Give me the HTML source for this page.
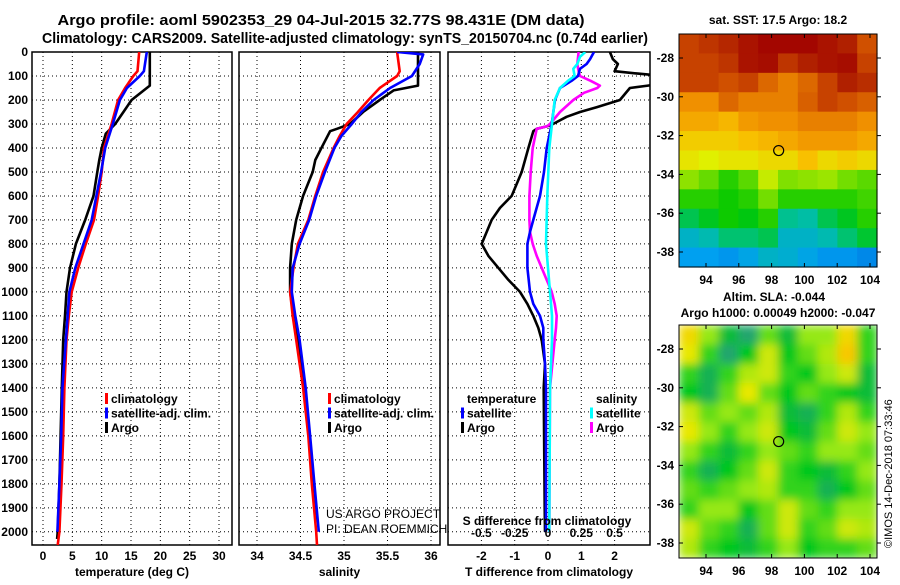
<!DOCTYPE html>
<html><head><meta charset="utf-8"><style>
html,body{margin:0;padding:0;background:#fff;}
svg text{font-family:"Liberation Sans",sans-serif;}
.b{font-weight:bold;font-size:12px;}
</style></head><body>
<svg id="fig" width="900" height="580" viewBox="0 0 900 580" xmlns="http://www.w3.org/2000/svg">
<defs>
<filter id="blur" x="0" y="0" width="1" height="1"><feGaussianBlur stdDeviation="4.5" edgeMode="duplicate"/></filter>
<clipPath id="c1"><rect x="32" y="52" width="200" height="493"/></clipPath>
<clipPath id="c2"><rect x="239" y="52" width="201" height="493"/></clipPath>
<clipPath id="c3"><rect x="448" y="52" width="202" height="493"/></clipPath>
<clipPath id="cm2"><rect x="679" y="325" width="198" height="233"/></clipPath>
</defs>
<text x="321" y="25" text-anchor="middle" font-weight="bold" font-size="14.5" textLength="527" lengthAdjust="spacingAndGlyphs">Argo profile: aoml 5902353_29 04-Jul-2015 32.77S 98.431E (DM data)</text>
<text x="345" y="43" text-anchor="middle" font-weight="bold" font-size="14.5" textLength="606" lengthAdjust="spacingAndGlyphs">Climatology: CARS2009. Satellite-adjusted climatology: synTS_20150704.nc (0.74d earlier)</text>
<g id="g1"></g>
<g id="g2"></g>
<g id="g3"></g>
<g id="m1"></g>
<g id="m2"></g>
<text x="778" y="24" text-anchor="middle" class="b">sat. SST: 17.5 Argo: 18.2</text>
<text x="774" y="301" text-anchor="middle" class="b">Altim. SLA: -0.044</text>
<text x="778" y="317" text-anchor="middle" class="b">Argo h1000: 0.00049 h2000: -0.047</text>
<text transform="translate(892,548) rotate(-90)" font-size="11">©IMOS 14-Dec-2018 07:33:46</text>
</svg>
<script>
// ---------- data ----------
const depthTArgo = [0,130,140,200,300,340,400,450,500,600,700,800,900,1000,1100,1200,1400,1600,1800,2000,2030];
const tempArgo   = [18.2,18.2,18.2,15.1,12.3,10.7,10.0,9.6,9.25,8.6,7.2,5.6,4.6,4.0,3.75,3.45,3.2,3.0,2.8,2.5,2.4];
const depthTClim = [0,80,100,150,200,300,400,500,600,700,800,900,1000,1100,1200,1400,1600,1800,2000,2055];
const tempClim   = [16.4,16.1,15.4,14.0,12.8,11.7,10.4,10.0,9.4,8.7,7.3,6.0,4.9,4.4,4.0,3.65,3.45,3.15,2.8,2.5];
const depthTSat  = [0,80,100,150,200,300,400,500,600,700,800,900,1000,1100,1200,1400,1600,1800,2000];
const tempSat    = [17.7,17.2,16.5,14.3,13.1,11.9,10.6,9.9,9.1,8.3,6.9,5.5,4.5,4.2,3.9,3.3,3.1,2.8,2.45];

const depthSArgo = [0,140,160,200,250,300,320,330,400,450,500,600,700,800,900,1000,1100,1200,1400,1600,1800,1950];
const salArgo    = [35.85,35.85,35.57,35.41,35.22,35.07,34.92,34.84,34.74,34.67,34.64,34.53,34.45,34.40,34.38,34.38,34.42,34.47,34.55,34.60,34.64,34.68];
const depthSClim = [0,80,100,150,200,250,300,350,400,500,600,700,800,900,1000,1100,1200,1400,1600,1800,2000,2055];
const salClim    = [35.61,35.64,35.61,35.41,35.28,35.16,35.03,34.95,34.88,34.76,34.67,34.59,34.47,34.42,34.38,34.41,34.45,34.53,34.59,34.63,34.68,34.69];
const depthSSat  = [0,10,50,100,150,200,250,300,350,400,500,600,700,800,900,1000,1100,1200,1400,1600,1800,2000];
const salSat     = [35.61,35.91,35.87,35.78,35.53,35.34,35.20,35.09,34.97,34.89,34.78,34.68,34.60,34.49,34.41,34.40,34.44,34.49,34.56,34.61,34.66,34.71];

const depthDArgoT = [0,30,50,80,90,100,130,140,150,200,230,250,270,300,310,320,330,400,500,600,650,700,750,800,850,900,950,1000,1050,1100,1150,1200,1300,1400,1900,2000];
const dTArgo      = [1.86,1.95,2.1,2.0,2.7,3.5,3.5,3.0,2.46,2.16,1.46,0.96,0.56,0.15,-0.04,-0.34,-0.44,-0.59,-0.79,-1.09,-1.44,-1.69,-1.84,-1.99,-1.79,-1.49,-1.19,-0.84,-0.62,-0.44,-0.29,-0.19,-0.09,-0.13,-0.1,-0.09];
const depthDSatT  = [0,30,50,70,100,120,150,200,300,400,500,600,700,750,800,900,1000,1050,1100,1150,1200,1300,1400,2000];
const dTSat       = [1.38,1.26,1.16,0.96,0.9,0.71,0.36,0.21,0.11,-0.04,-0.12,-0.24,-0.44,-0.54,-0.62,-0.62,-0.54,-0.44,-0.24,-0.14,-0.14,-0.09,-0.06,-0.06];
const depthDSatS  = [0,20,50,70,100,120,150,200,300,400,600,800,900,1000,1100,1200,1400,2000];
const dSSat       = [0.28,0.24,0.22,0.19,0.2,0.15,0.09,0.05,0.03,0.01,-0.005,-0.015,0,0.015,0.03,0.03,0.015,0.01];
const depthDArgoS = [0,50,80,100,120,140,150,170,200,250,300,310,320,400,500,600,700,750,800,850,900,950,1000,1050,1100,1150,1200,1400,2000];
const dSArgo      = [0.23,0.22,0.23,0.24,0.32,0.39,0.37,0.27,0.19,0.09,0.015,-0.01,-0.085,-0.115,-0.13,-0.14,-0.14,-0.135,-0.115,-0.085,-0.047,-0.01,0.028,0.05,0.065,0.06,0.05,0.015,0.01];

const depthTicks = [0,100,200,300,400,500,600,700,800,900,1000,1100,1200,1300,1400,1500,1600,1700,1800,1900,2000];
const tempTicks = [0,5,10,15,20,25,30];
const salTicks = [34,34.5,35,35.5,36];
const salTickLabels = ["34","34.5","35","35.5","36"];
const tdTicks = [-2,-1,0,1,2];
const sdTicks = [-0.5,-0.25,0,0.25,0.5];
const sdTickLabels = ["-0.5","-0.25","0","0.25","0.5"];

const sstGrid = [
[.9,.92,.94,.97,.99,.99,.99,.97,.95,.88],
[.9,.9,.92,.97,.98,.92,.95,.97,.98,.9],
[.9,.9,.88,.9,.85,.82,.85,.9,.95,.93],
[.8,.8,.85,.82,.82,.82,.86,.9,.88,.86],
[.75,.75,.72,.78,.8,.8,.82,.82,.82,.8],
[.68,.68,.68,.7,.72,.75,.78,.78,.78,.75],
[.64,.62,.64,.64,.66,.66,.7,.66,.68,.66],
[.56,.53,.48,.52,.6,.55,.56,.57,.54,.52],
[.48,.48,.46,.48,.54,.48,.48,.48,.48,.5],
[.4,.43,.46,.44,.48,.36,.34,.4,.43,.48],
[.28,.32,.38,.38,.4,.28,.28,.32,.38,.42],
[.2,.2,.18,.22,.28,.26,.22,.18,.18,.15]];
const slaGrid = [
[.8,.6,.4,.3,.55,.4,.6,.6,.8,.5],
[.75,.5,.3,.45,.7,.45,.55,.65,.85,.5],
[.5,.35,.5,.65,.7,.5,.45,.6,.7,.4],
[.45,.35,.55,.75,.55,.45,.55,.5,.45,.4],
[.7,.55,.6,.55,.65,.4,.35,.5,.65,.5],
[.75,.6,.5,.6,.7,.45,.4,.55,.7,.6],
[.6,.5,.4,.5,.6,.55,.5,.6,.6,.55],
[.5,.35,.45,.55,.7,.5,.45,.4,.5,.6],
[.55,.5,.55,.6,.65,.5,.5,.35,.45,.55],
[.5,.6,.6,.45,.55,.7,.55,.5,.6,.6],
[.7,.55,.5,.35,.55,.7,.5,.55,.7,.65],
[.65,.5,.45,.4,.5,.6,.45,.5,.5,.55]];
const lonTicks = [94,96,98,100,102,104];
const latTicks = [-28,-30,-32,-34,-36,-38];
const argoLon = 98.431, argoLat = -32.77;

// ---------- helpers ----------
const NS = "http://www.w3.org/2000/svg";
function mk(tag, parent, attrs){ const e=document.createElementNS(NS,tag); for(const k in attrs) e.setAttribute(k,attrs[k]); parent.appendChild(e); return e; }
const PT=52, PB=545;
const yD = d => PT + (d/2055)*(PB-PT);
function lin(d0,d1,r0,r1){ return v => r0 + (v-d0)/(d1-d0)*(r1-r0); }
const xT = lin(0,30,43,219);
const xS = lin(34,36,257,431);
const xTD = lin(0,1,548,581.3);
const xSD = lin(0,1,548,681.2);

function frame(g, x0, x1, xticks, xfn, xlabels, title, showY){
  for(const d of depthTicks){
    const gl=mk('line',g,{x1:x0,x2:x1,y1:yD(d),y2:yD(d),stroke:'#000','stroke-width':1,'stroke-dasharray':'1,3'});
    
    
    if(showY){
      const t=mk('text',g,{x:28,y:yD(d)+4,'text-anchor':'end',class:'b'}); t.textContent=d;
      
      
    }
  }
  xticks.forEach((v,i)=>{
    const X=xfn(v);
    const gl=mk('line',g,{x1:X,x2:X,y1:PT,y2:PB,stroke:'#000','stroke-width':1,'stroke-dasharray':'1,3'});
    
    
    const t=mk('text',g,{x:X,y:560,'text-anchor':'middle',class:'b'}); t.textContent=xlabels[i];
    
    
  });
  const r=mk('rect',g,{x:x0,y:PT,width:x1-x0,height:PB-PT,fill:'none',stroke:'#000','stroke-width':1.5});
  
  
  const tt=mk('text',g,{x:(x0+x1)/2,y:576,'text-anchor':'middle',class:'b'}); tt.textContent=title;
  
  
}
function series(g, depths, vals, xfn, color, clip, name){
  const pts = depths.map((d,i)=>xfn(vals[i]).toFixed(1)+','+yD(d).toFixed(1)).join(' ');
  const p=mk('polyline',g,{points:pts,fill:'none',stroke:color,'stroke-width':2.6,'clip-path':'url(#'+clip+')','stroke-linejoin':'round'});
  
  
}
function legend(g, x, y, items){
  items.forEach((it,i)=>{
    const yy=y+i*14.5;
    if(it[0]){ const r=mk('rect',g,{x:x,y:yy-10,width:3,height:11,fill:it[0]});
      
       }
    const t=mk('text',g,{x:x+6,y:yy,class:'b'}); t.textContent=it[1];
    
    
  });
}

// panel 1
const g1=document.getElementById('g1');
frame(g1,32,232,tempTicks,xT,tempTicks.map(String),'temperature (deg C)',true);
series(g1,depthTArgo,tempArgo,xT,'#000','c1','temp-argo-line');
series(g1,depthTClim,tempClim,xT,'#f00','c1','temp-climatology-line');
series(g1,depthTSat,tempSat,xT,'#00f','c1','temp-satellite-line');
legend(g1,105,403,[['#f00','climatology'],['#00f','satellite-adj. clim.'],['#000','Argo']]);

// panel 2
const g2=document.getElementById('g2');
frame(g2,239,440,salTicks,xS,salTickLabels,'salinity',false);
series(g2,depthSArgo,salArgo,xS,'#000','c2','sal-argo-line');
series(g2,depthSClim,salClim,xS,'#f00','c2','sal-climatology-line');
series(g2,depthSSat,salSat,xS,'#00f','c2','sal-satellite-line');
legend(g2,328,403,[['#f00','climatology'],['#00f','satellite-adj. clim.'],['#000','Argo']]);
const c1=mk('text',g2,{x:326,y:518,'font-size':'12'}); c1.textContent='US ARGO PROJECT';


const c2=mk('text',g2,{x:326,y:533,'font-size':'12'}); c2.textContent='PI: DEAN ROEMMICH';



// panel 3
const g3=document.getElementById('g3');
frame(g3,448,650,tdTicks,xTD,tdTicks.map(String),'T difference from climatology',false);
series(g3,depthDArgoT,dTArgo,xTD,'#000','c3','tdiff-argo-line');
series(g3,depthDArgoS,dSArgo,xSD,'#f0f','c3','sdiff-argo-line');
series(g3,depthDSatT,dTSat,xTD,'#00f','c3','tdiff-satellite-line');
series(g3,depthDSatS,dSSat,xSD,'#0ff','c3','sdiff-satellite-line');
legend(g3,461,403,[[null,'temperature'],['#00f','satellite'],['#000','Argo']]);
legend(g3,590,403,[[null,'salinity'],['#0ff','satellite'],['#f0f','Argo']]);
sdTicks.forEach((v,i)=>{
  const t=mk('text',g3,{x:xSD(v),y:537,'text-anchor':'middle',class:'b'}); t.textContent=sdTickLabels[i];
  
  
});
const st=mk('text',g3,{x:547,y:525,'text-anchor':'middle',class:'b'}); st.textContent='S difference from climatology';



// maps
const mxL=679, mxR=877;
const lonX = lin(94,104,706,870);
function ramp(s,v){
  for(let i=1;i<s.length;i++){ if(v<=s[i][0]){ const f=(v-s[i-1][0])/(s[i][0]-s[i-1][0]); const a=s[i-1][1],b=s[i][1]; return 'rgb('+a.map((c,k)=>Math.round(c+(b[k]-c)*f)).join(',')+')'; } }
  const l=s[s.length-1][1]; return 'rgb('+l.join(',')+')';
}
function cmapSST(v){
  return ramp([[0,[0,64,208]],[.2,[0,160,240]],[.35,[0,192,160]],[.45,[0,200,0]],[.55,[128,224,0]],[.62,[224,240,0]],[.7,[248,192,0]],[.8,[240,144,0]],[.88,[208,80,0]],[.95,[176,32,0]],[1,[160,0,0]]],v);
}
function cmapSLA(v){
  return ramp([[0,[20,150,130]],[.3,[32,165,110]],[.45,[0,200,30]],[.6,[150,232,20]],[.75,[232,232,0]],[.85,[248,200,0]],[1,[248,180,0]]],v);
}
function drawMap(g, top, bottom, grid, cmap, blur){
  const latY = lin(-28,-38,top+24,top+24+194);
  const cg=mk('g',g,blur?{filter:'url(#blur)','clip-path':'url(#cm2)'}:{});
  const rows=grid.length, cols=grid[0].length;
  const cw=(mxR-mxL)/cols, ch=(bottom-top)/rows;
  grid.forEach((row,r)=>row.forEach((v,c)=>{
    const cell=mk('rect',cg,{x:mxL+c*cw,y:top+r*ch,width:cw+0.6,height:ch+0.6,fill:cmap(v)});
    
    
  }));
  const fr=mk('rect',g,{x:mxL,y:top,width:mxR-mxL,height:bottom-top,fill:'none',stroke:'#000','stroke-width':1});
  
  
  for(const la of latTicks){
    const Y=latY(la);
    mk('line',g,{x1:mxL,x2:mxL+4,y1:Y,y2:Y,stroke:'#000'});
    mk('line',g,{x1:mxR,x2:mxR+4,y1:Y,y2:Y,stroke:'#000'});
    const t=mk('text',g,{x:mxL-5,y:Y+4,'text-anchor':'end',class:'b'}); t.textContent=la;
    
    
  }
  for(const lo of lonTicks){
    const X=lonX(lo);
    mk('line',g,{x1:X,x2:X,y1:bottom,y2:bottom-4,stroke:'#000'});
    mk('line',g,{x1:X,x2:X,y1:top,y2:top+4,stroke:'#000'});
    const t=mk('text',g,{x:X,y:bottom+17,'text-anchor':'middle',class:'b'}); t.textContent=lo;
    
    
  }
  const m=mk('circle',g,{cx:lonX(argoLon),cy:latY(argoLat),r:5,fill:'none',stroke:'#000','stroke-width':1.2});
  
  
}
drawMap(document.getElementById('m1'),34,267,sstGrid,cmapSST,false);
drawMap(document.getElementById('m2'),325,558,slaGrid,cmapSLA,true);
</script>
</body></html>
